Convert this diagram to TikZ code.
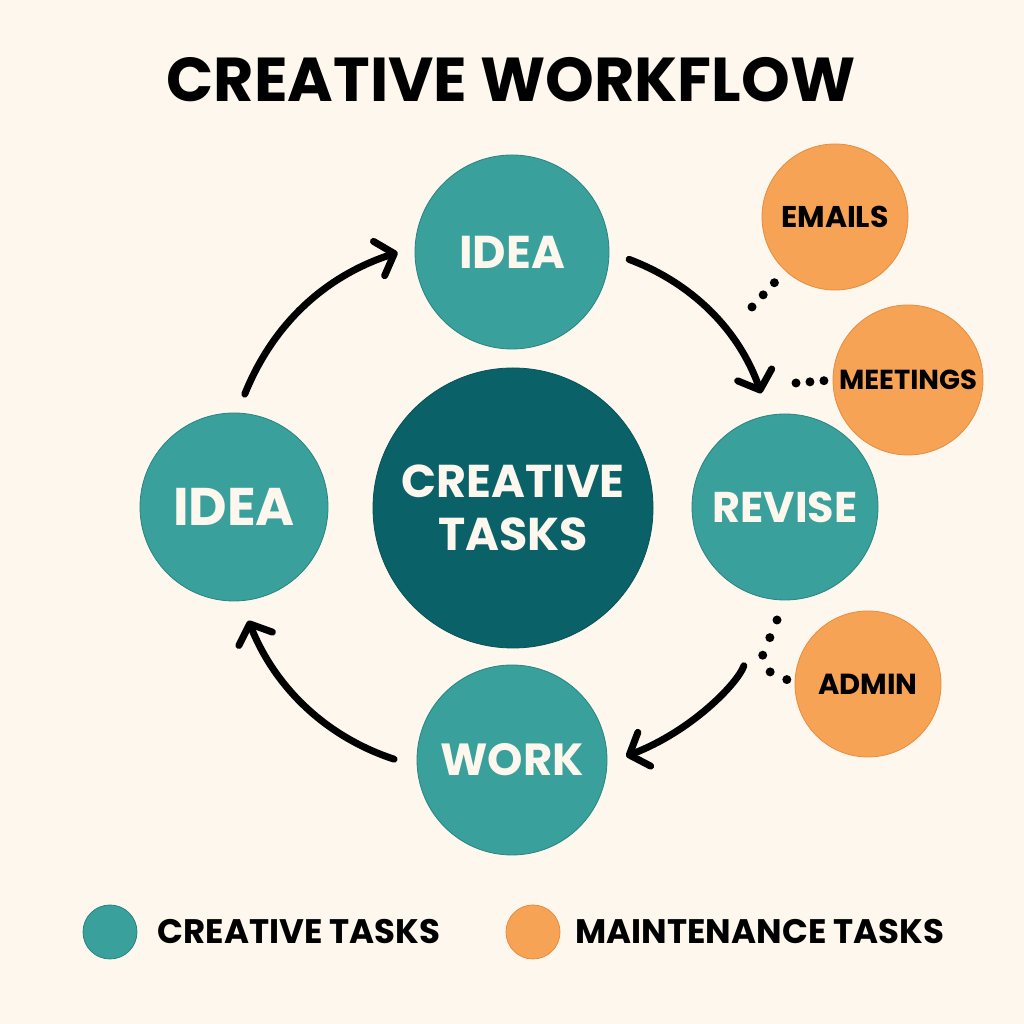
\documentclass[tikz,border=0pt]{standalone}
\usepackage{fontspec}
\setmainfont{Poppins}
\usetikzlibrary{positioning,arrows.meta}
\definecolor{bgcream}{RGB}{253,247,238}
\definecolor{tealA}{RGB}{58,160,156}
\definecolor{tealAd}{RGB}{40,132,129}
\definecolor{tealB}{RGB}{10,97,103}
\definecolor{orng}{RGB}{247,163,86}
\definecolor{orngd}{RGB}{230,140,62}
\newcommand{\fsz}[2]{\fontsize{#1}{#2}\selectfont\bfseries}

\begin{document}
\begin{tikzpicture}[x=1pt,y=1pt,
  task/.style={circle, inner sep=0pt, line width=0.8pt, align=center},
  creative/.style={task, fill=tealA, draw=tealAd, text=bgcream},
  maint/.style={task, fill=orng, draw=orngd, text=black},
  flow/.style={line width=7pt, line cap=round, -{Straight Barb[round,length=16pt,width=36pt]}},
  dotline/.style={line width=9pt, line cap=round, dash pattern=on 0pt off #1},
  legend/.style={inner sep=0pt, font=\fsz{34}{38}}]
\fill[bgcream] (0,0) rectangle (1024,1024);
\useasboundingbox (0,0) rectangle (1024,1024);

\node[font=\fsz{62}{70}] (title) at (511,944) {CREATIVE WORKFLOW};

\node[creative, fill=tealB, draw=tealB!85!black, minimum size=280pt, font=\fsz{46}{53}] (ctask) at (513,516) {CREATIVE\\TASKS};
\node[creative, minimum size=194pt, font=\fsz{46}{50}] (tidea) at (512,772) {IDEA};
\node[creative, minimum size=188pt, font=\fsz{53}{58}] (lidea) at (234,517) {IDEA};
\node[creative, minimum size=186pt, font=\fsz{43}{48}] (revise) at (785,517) {REVISE};
\node[creative, minimum size=190pt, font=\fsz{45}{50}] (work) at (512,264) {WORK};

\node[maint, minimum size=146pt, font=\fsz{30}{34}] (emails) at (835,807) {EMAILS};
\node[maint, minimum size=150pt, font=\fsz{27.5}{32}] (meetings) at (908,644) {MEETINGS};
\node[maint, minimum size=146pt, font=\fsz{29}{34}] (admin) at (868,340) {ADMIN};

\draw[flow, shorten <=20pt, shorten >=18pt] (lidea.88) to[bend left=25] (tidea.177);
\draw[flow, shorten <=21pt, shorten >=23pt] (tidea.0) to[bend left=25] (revise.100);
\draw[flow, shorten <=71pt, shorten >=20pt] (revise.259) to[bend left=25] (work.-2);
\draw[flow, shorten <=24pt, shorten >=21pt] (work.184) to[bend left=25] (lidea.274);

\coordinate (e1) at (752,717);
\coordinate (m1) at (796,641);
\coordinate (a2) at (777,404);
\coordinate (a1) at (762,367);
\coordinate (a3) at (784,346);
\draw[dotline=16.5pt, shorten >=14pt] (e1) -- (emails);
\draw[dotline=14pt, shorten >=6pt] (m1) -- (meetings.west);
\draw[dotline=19pt] (a2) -- (a1) to[out=-68,in=185] (a3) -- (admin.west);

\node[creative, minimum size=54pt] (lgc) at (110,92) {};
\node[legend, right=20pt of lgc] (lgctxt) {CREATIVE TASKS};
\node[maint, minimum size=54pt] (lgm) at (533,92) {};
\node[legend, right=15pt of lgm] (lgmtxt) {MAINTENANCE TASKS};
\end{tikzpicture}
\end{document}
